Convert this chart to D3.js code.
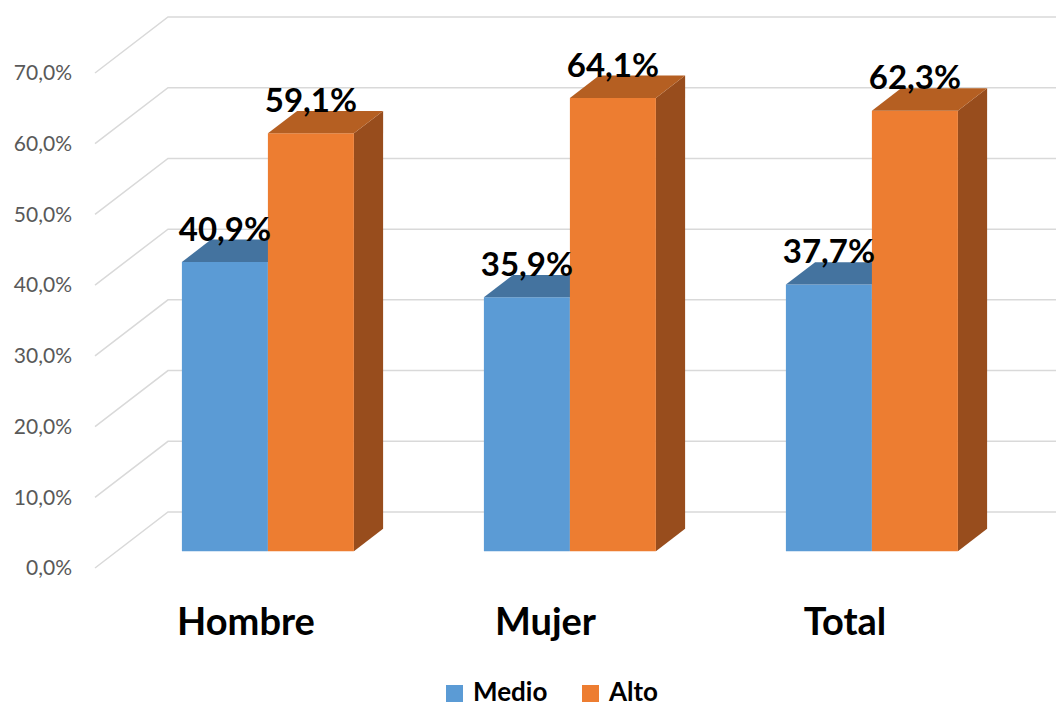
<!DOCTYPE html>
<html>
<head>
<meta charset="utf-8">
<script src="https://cdn.jsdelivr.net/npm/d3@7"></script>
<style>
  html, body { margin: 0; padding: 0; background: #fff; }
  svg { display: block; font-family: Lato, "Open Sans", sans-serif; }
</style>
</head>
<body>
<svg id="chart" width="1056" height="707"></svg>
<script>
// Data
const categories = ["Hombre", "Mujer", "Total"];
const seriesNames = ["Medio", "Alto"];
const medio = [40.9, 35.9, 37.7];
const alto = [59.1, 64.1, 62.3];
const yTicks = [0, 10, 20, 30, 40, 50, 60, 70];

const W = 1056, H = 707;
const svg = d3.select("#chart");

// 3D layout: front plane plus an oblique depth offset
const DX = 73, DY = 56;          // full depth of the floor
const d0 = 0.3, d1 = 0.7;        // bars sit between these depth fractions

const y = d3.scaleLinear().domain([0, 70]).range([568, 73]);
const x0 = d3.scaleBand().domain(categories).range([95, 1001]);
const x1 = d3.scaleBand().domain(seriesNames).range([65, 237]);
// category captions sit slightly tighter than the bar groups
const xCat = d3.scalePoint().domain(categories).range([246, 845]);

const proj = (px, v, d) => [px + d * DX, y(v) - d * DY];

const colors = {
  Medio: { front: "#5B9BD5", top: "#44739F", side: "#3E6B95" },
  Alto:  { front: "#ED7D31", top: "#B55F22", side: "#984D1D" }
};

// Gridlines: oblique segment on the side wall, then across the back wall
const grid = svg.append("g");
yTicks.forEach(t => {
  const a = proj(x0.range()[0], t, 0);
  const b = proj(x0.range()[0], t, 1);
  grid.append("polyline")
    .attr("points", [a, b, [W + 5, b[1]]].map(p => p.join(",")).join(" "))
    .attr("fill", "none")
    .attr("stroke", "#d9d9d9")
    .attr("stroke-width", 1.5);
});

// Y axis labels
const fmt = v => d3.format(".1f")(v).replace(".", ",") + "%";
svg.append("g").selectAll("text")
  .data(yTicks)
  .join("text")
  .attr("x", 72)
  .attr("y", d => y(d))
  .attr("dy", "0.35em")
  .attr("text-anchor", "end")
  .attr("font-size", 21)
  .attr("fill", "#595959")
  .text(fmt);

// Bars
const rows = categories.map((c, i) => ({ cat: c, values: [
  { key: "Medio", v: medio[i] },
  { key: "Alto", v: alto[i] }
]}));

const poly = pts => pts.map(p => p.join(",")).join(" ");
const barsG = svg.append("g");
const labelsG = svg.append("g");

rows.forEach(r => {
  r.values.forEach(s => {
    const xl = x0(r.cat) + x1(s.key);
    const xr = xl + x1.bandwidth();
    const c = colors[s.key];
    const fl0 = proj(xl, 0, d0), fr0 = proj(xr, 0, d0);
    const flt = proj(xl, s.v, d0), frt = proj(xr, s.v, d0);
    const blt = proj(xl, s.v, d1), brt = proj(xr, s.v, d1);
    const br0 = proj(xr, 0, d1);
    // side
    barsG.append("polygon").attr("points", poly([fr0, frt, brt, br0])).attr("fill", c.side);
    // front
    barsG.append("polygon").attr("points", poly([fl0, flt, frt, fr0])).attr("fill", c.front);
    // top
    barsG.append("polygon").attr("points", poly([flt, blt, brt, frt])).attr("fill", c.top);

    labelsG.append("text")
      .attr("x", (xl + xr) / 2 + d0 * DX)
      .attr("y", blt[1] + 1)
      .attr("text-anchor", "middle")
      .attr("font-size", 33)
      .attr("font-weight", 700)
      .attr("fill", "#000")
      .text(fmt(s.v));
  });
});

// Category labels
svg.append("g").selectAll("text")
  .data(categories)
  .join("text")
  .attr("x", d => xCat(d))
  .attr("y", 635)
  .attr("text-anchor", "middle")
  .attr("font-size", 38)
  .attr("font-weight", 700)
  .attr("fill", "#000")
  .text(d => d);

// Legend
const legend = svg.append("g");
const legendItems = [
  { key: "Medio", x: 446 },
  { key: "Alto", x: 582 }
];
legendItems.forEach(it => {
  legend.append("rect")
    .attr("x", it.x).attr("y", 685)
    .attr("width", 17).attr("height", 17)
    .attr("fill", colors[it.key].front);
  legend.append("text")
    .attr("x", it.x + 27).attr("y", 701)
    .attr("font-size", 26)
    .attr("font-weight", 700)
    .attr("fill", "#000")
    .text(it.key);
});
</script>
</body>
</html>
